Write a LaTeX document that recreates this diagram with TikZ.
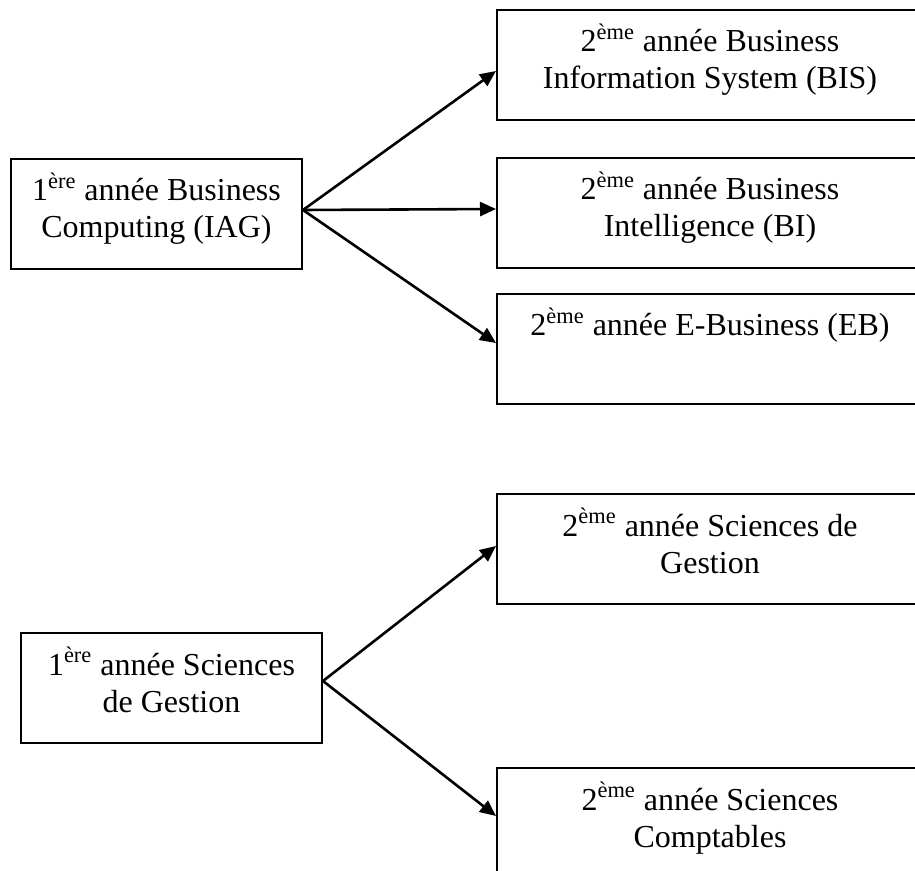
\documentclass[tikz,border=0pt]{standalone}
\usepackage{fontspec}
\setmainfont{Liberation Serif}
\usepackage{tikz}
\usetikzlibrary{arrows.meta,positioning}

\newcommand{\yeartext}[2]{\parbox[c][55pt][t]{#1}{\centering\rule{0pt}{21pt}#2}}

\begin{document}
\begin{tikzpicture}[x=0.5pt, y=-0.5pt,
    yearbox/.style={draw, line width=1pt, inner sep=0pt, anchor=north west,
        font=\fontsize{16}{18.5}\selectfont},
    link/.style={line width=1.3pt, -{Triangle[length=8pt,width=7pt]}}]
    \clip (0,0) rectangle (915,871);

    % first year
    \node[yearbox] (iag) at (10,158) {\yeartext{145.5pt}{1\textsuperscript{ère} année Business\\Computing (IAG)}};
    \node[yearbox] (sg) at (20,632) {\yeartext{150.5pt}{1\textsuperscript{ère} année Sciences\\de Gestion}};

    % second year
    \node[yearbox] (bis) at (496,9) {\yeartext{213pt}{2\textsuperscript{ème} année Business\\Information System (BIS)}};
    \node[yearbox] (bi) at (496,157) {\yeartext{213pt}{2\textsuperscript{ème} année Business\\Intelligence (BI)}};
    \node[yearbox] (eb) at (496,293) {\yeartext{213pt}{2\textsuperscript{ème} année E-Business (EB)}};
    \node[yearbox] (sg2) at (496,493) {\yeartext{213pt}{2\textsuperscript{ème} année Sciences de\\Gestion}};
    \node[yearbox] (sc) at (496,767) {\yeartext{213pt}{2\textsuperscript{ème} année Sciences\\Comptables}};

    \draw[link] ([yshift=2pt]iag.east) -- ([yshift=-3pt]bis.west);
    \draw[link] ([yshift=2pt]iag.east) -- ([yshift=2pt]bi.west);
    \draw[link] ([yshift=2pt]iag.east) -- ([yshift=3pt]eb.west);
    \draw[link] ([yshift=3.5pt]sg.east) -- ([yshift=1.5pt]sg2.west);
    \draw[link] ([yshift=3.5pt]sg.east) -- ([yshift=3.5pt]sc.west);
\end{tikzpicture}
\end{document}
